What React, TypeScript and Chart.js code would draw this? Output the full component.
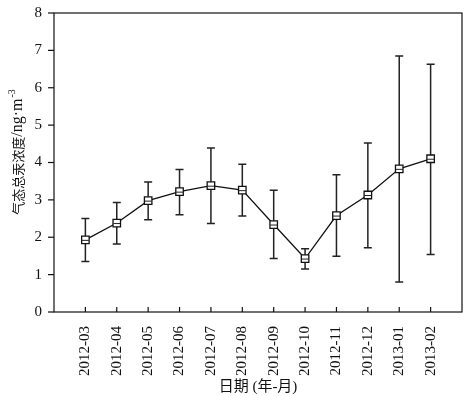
import React, { useEffect, useRef } from "react";
import { Chart, registerables } from "chart.js";

Chart.register(...registerables);

const categories = ["2012-03", "2012-04", "2012-05", "2012-06", "2012-07", "2012-08", "2012-09", "2012-10", "2012-11", "2012-12", "2013-01", "2013-02"];
const meanValues = [1.93, 2.38, 2.98, 3.22, 3.38, 3.26, 2.34, 1.43, 2.58, 3.13, 3.83, 4.1];
const upperValues = [2.5, 2.93, 3.48, 3.81, 4.39, 3.95, 3.26, 1.69, 3.67, 4.52, 6.85, 6.63];
const lowerValues = [1.35, 1.82, 2.47, 2.6, 2.37, 2.57, 1.43, 1.15, 1.49, 1.72, 0.8, 1.54];
const yTicks = [0, 1, 2, 3, 4, 5, 6, 7, 8];
const yTitleCjk = "气态总汞浓度";
const yTitleLatin = "/ng·m";
const yTitleSup = "-3";

const FONT = "'Liberation Serif', 'Times New Roman', 'Noto Sans CJK SC', serif";
const CJK_FONT = "'Noto Sans CJK SC', sans-serif";

const customPlugin = {
  id: "customDraw",
  beforeDatasetsDraw(chart: any) {
    const { ctx, scales } = chart;
    const x = scales.x;
    const y = scales.y;
    ctx.save();
    ctx.strokeStyle = "#222";
    ctx.lineWidth = 1.5;
    categories.forEach((_, i) => {
      const px = x.getPixelForValue(i);
      const top = y.getPixelForValue(upperValues[i]);
      const bot = y.getPixelForValue(lowerValues[i]);
      ctx.beginPath();
      ctx.moveTo(px, top);
      ctx.lineTo(px, bot);
      ctx.moveTo(px - 4, top);
      ctx.lineTo(px + 4, top);
      ctx.moveTo(px - 4, bot);
      ctx.lineTo(px + 4, bot);
      ctx.stroke();
    });
    ctx.restore();
  },
  afterDatasetsDraw(chart: any) {
    const { ctx, scales, chartArea } = chart;
    const x = scales.x;
    const y = scales.y;
    ctx.save();
    ctx.strokeStyle = "#222";
    ctx.lineWidth = 1;
    categories.forEach((_, i) => {
      const px = x.getPixelForValue(i);
      const py = y.getPixelForValue(meanValues[i]);
      ctx.beginPath();
      ctx.moveTo(px - 3.5, py + 0.5);
      ctx.lineTo(px + 3.5, py + 0.5);
      ctx.stroke();
    });
    ctx.lineWidth = 1.2;
    ctx.strokeStyle = "#111";
    ctx.strokeRect(chartArea.left, chartArea.top, chartArea.right - chartArea.left, chartArea.bottom - chartArea.top);
    categories.forEach((_, i) => {
      const px = x.getPixelForValue(i);
      ctx.beginPath();
      ctx.moveTo(px, chartArea.bottom);
      ctx.lineTo(px, chartArea.bottom - 5);
      ctx.stroke();
    });
    yTicks.forEach((v) => {
      const py = y.getPixelForValue(v);
      ctx.beginPath();
      ctx.moveTo(chartArea.left, py);
      ctx.lineTo(chartArea.left - 6, py);
      ctx.stroke();
    });
    // y title
    ctx.translate(18, 152);
    ctx.rotate(-Math.PI / 2);
    ctx.fillStyle = "#111";
    ctx.textBaseline = "middle";
    ctx.textAlign = "left";
    const parts = [
      { t: yTitleCjk, f: `13px ${CJK_FONT}`, dy: 0 },
      { t: yTitleLatin, f: `16px ${FONT}`, dy: 0 },
      { t: yTitleSup, f: `10px ${FONT}`, dy: -6 },
    ];
    const widths = parts.map((p) => {
      ctx.font = p.f;
      return ctx.measureText(p.t).width;
    });
    const total = widths.reduce((a, b) => a + b, 0) + 1;
    let pos = -total / 2;
    parts.forEach((p, i) => {
      ctx.font = p.f;
      ctx.fillText(p.t, pos, p.dy);
      pos += widths[i] + (i === 1 ? 1 : 0);
    });
    ctx.restore();
  },
};

export default function App() {
  const ref = useRef<HTMLCanvasElement | null>(null);
  useEffect(() => {
    document.body.style.margin = "0";
    const canvas = ref.current;
    if (!canvas) return;
    const chart = new Chart(canvas, {
      type: "line",
      data: {
        datasets: [
          {
            data: meanValues.map((v, i) => ({ x: i, y: v })),
            borderColor: "#111",
            borderWidth: 1.3,
            pointStyle: "rect",
            pointRadius: 5.3,
            pointBackgroundColor: "#fff",
            pointBorderColor: "#111",
            pointBorderWidth: 1.3,
            tension: 0,
          },
        ],
      },
      options: {
        animation: false,
        responsive: false,
        maintainAspectRatio: false,
        events: [],
        layout: { padding: { top: 11, right: 11, left: 0, bottom: 0 } },
        plugins: { legend: { display: false }, tooltip: { enabled: false } },
        scales: {
          x: {
            type: "linear",
            min: -1,
            max: 12,
            grid: { display: false },
            border: { display: false },
            afterBuildTicks: (scale: any) => {
              scale.ticks = categories.map((_, i) => ({ value: i }));
            },
            afterFit: (scale: any) => {
              scale.height = 84;
            },
            ticks: {
              autoSkip: false,
              maxRotation: 90,
              minRotation: 90,
              padding: 6,
              color: "#111",
              font: { family: FONT, size: 15 },
              callback: (v: any) => categories[v] ?? "",
            },
            title: {
              display: true,
              text: "日期 (年-月)",
              color: "#111",
              font: { family: FONT, size: 15 },
              padding: { top: 0, bottom: 0 },
            },
          },
          y: {
            type: "linear",
            min: 0,
            max: 8,
            grid: { display: false },
            border: { display: false },
            afterBuildTicks: (scale: any) => {
              scale.ticks = yTicks.map((v) => ({ value: v }));
            },
            afterFit: (scale: any) => {
              scale.width = 54;
            },
            ticks: {
              padding: 4,
              color: "#111",
              font: { family: FONT, size: 15 },
            },
          },
        },
      },
      plugins: [customPlugin],
    } as any);
    return () => chart.destroy();
  }, []);
  return (
    <div style={{ width: 473, height: 396 }}>
      <canvas ref={ref} width={473} height={396} style={{ display: "block", width: 473, height: 396 }} />
    </div>
  );
}
